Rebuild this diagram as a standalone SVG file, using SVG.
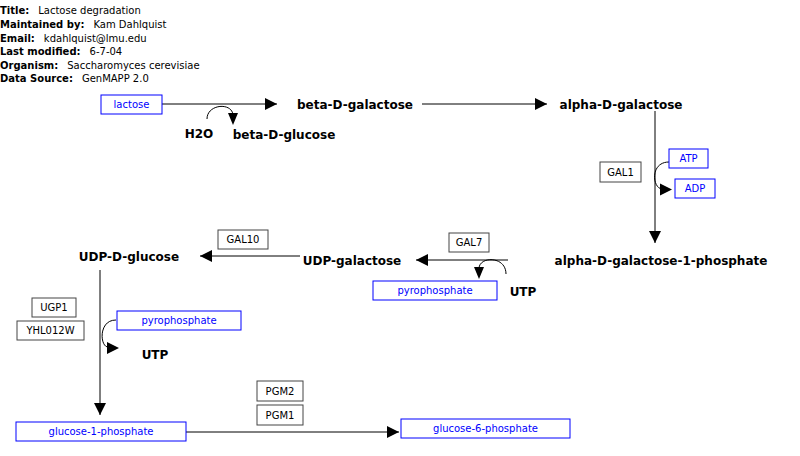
<svg xmlns="http://www.w3.org/2000/svg" width="800" height="456" viewBox="0 0 800 456">
<style>
text{font-family:"DejaVu Sans","Liberation Sans",sans-serif}
.h{font-size:10px;fill:#000}
.hb{font-weight:bold}
.lbl{font-size:12px;font-weight:bold;fill:#000;text-anchor:middle;dominant-baseline:central}
.gb{fill:#fff;stroke:#444;stroke-width:1}
.gt{font-size:10px;fill:#000;text-anchor:middle;dominant-baseline:central}
.mb{fill:#fff;stroke:#0000ff;stroke-width:1}
.mt{font-size:10px;fill:#0000ff;text-anchor:middle;dominant-baseline:central}
.ln{fill:none;stroke:#000;stroke-width:1}
</style>
<defs>
<marker id="ah" viewBox="0 0 12 12" refX="12" refY="6" markerWidth="12" markerHeight="12" markerUnits="userSpaceOnUse" orient="auto">
<path d="M0,0 L12,6 L0,12 Z" fill="#000"/>
</marker>
</defs>
<g id="header">
<text class="h" x="0" y="14"><tspan class="hb">Title:</tspan><tspan dx="9">Lactose degradation</tspan></text>
<text class="h" x="0" y="28"><tspan class="hb">Maintained by:</tspan><tspan dx="9">Kam Dahlquist</tspan></text>
<text class="h" x="0" y="42"><tspan class="hb">Email:</tspan><tspan dx="9">kdahlquist@lmu.edu</tspan></text>
<text class="h" x="0" y="55"><tspan class="hb">Last modified:</tspan><tspan dx="9">6-7-04</tspan></text>
<text class="h" x="0" y="69"><tspan class="hb">Organism:</tspan><tspan dx="9">Saccharomyces cerevisiae</tspan></text>
<text class="h" x="0" y="82"><tspan class="hb">Data Source:</tspan><tspan dx="9">GenMAPP 2.0</tspan></text>
</g>
<g id="connectors">
<line class="ln" x1="162" y1="104" x2="277" y2="104" marker-end="url(#ah)"/>
<path class="ln" d="M207,119 C207,104 232,102 233,115" />
<path d="M228,113 L238,113 L233,125 Z" fill="#000"/>
<line class="ln" x1="422" y1="104" x2="547" y2="104" marker-end="url(#ah)"/>
<line class="ln" x1="655" y1="111" x2="655" y2="243" marker-end="url(#ah)"/>
<path class="ln" d="M669,162 C650,162 652,188 662,189" />
<path d="M660,183.5 L672,189.5 L660,195.5 Z" fill="#000"/>
<line class="ln" x1="508" y1="260" x2="416" y2="260" marker-end="url(#ah)"/>
<path class="ln" d="M506,274 C506,256 480,256 479,268" />
<path d="M474,267 L484,267 L479,279 Z" fill="#000"/>
<line class="ln" x1="300" y1="256" x2="200" y2="256" marker-end="url(#ah)"/>
<line class="ln" x1="100" y1="270" x2="100" y2="415" marker-end="url(#ah)"/>
<path class="ln" d="M116,320 C98,320 100,347 108,347" />
<path d="M107,342 L119,348 L107,354 Z" fill="#000"/>
<line class="ln" x1="186" y1="432" x2="399" y2="432" marker-end="url(#ah)"/>
</g>
<g id="lactose"><rect class="mb" x="101" y="95" width="61" height="19"/><text class="mt" x="131.5" y="104.5">lactose</text></g>
<g id="beta-D-galactose"><text class="lbl" x="355" y="104.5">beta-D-galactose</text></g>
<g id="H2O"><text class="lbl" x="199" y="133.5">H2O</text></g>
<g id="beta-D-glucose"><text class="lbl" x="284" y="134.5">beta-D-glucose</text></g>
<g id="alpha-D-galactose"><text class="lbl" x="621" y="104.5">alpha-D-galactose</text></g>
<g id="GAL1"><rect class="gb" x="600" y="162" width="41" height="20"/><text class="gt" x="620.5" y="172">GAL1</text></g>
<g id="ATP"><rect class="mb" x="669" y="149" width="39" height="19"/><text class="mt" x="688.5" y="158.5">ATP</text></g>
<g id="ADP"><rect class="mb" x="675" y="179" width="40" height="19"/><text class="mt" x="695" y="188.5">ADP</text></g>
<g id="alpha-D-galactose-1-phosphate"><text class="lbl" x="661" y="260.5">alpha-D-galactose-1-phosphate</text></g>
<g id="GAL7"><rect class="gb" x="449" y="233" width="40" height="19"/><text class="gt" x="469" y="242.5">GAL7</text></g>
<g id="UDP-galactose"><text class="lbl" x="352" y="260.5">UDP-galactose</text></g>
<g id="pyrophosphate1"><rect class="mb" x="373" y="281" width="124" height="19"/><text class="mt" x="435" y="290.5">pyrophosphate</text></g>
<g id="UTP1"><text class="lbl" x="523" y="291.5">UTP</text></g>
<g id="GAL10"><rect class="gb" x="218" y="230" width="50" height="19"/><text class="gt" x="243" y="239.5">GAL10</text></g>
<g id="UDP-D-glucose"><text class="lbl" x="129" y="256.5">UDP-D-glucose</text></g>
<g id="UGP1"><rect class="gb" x="32" y="298" width="44" height="19"/><text class="gt" x="54" y="307.5">UGP1</text></g>
<g id="YHL012W"><rect class="gb" x="17" y="321" width="67" height="19"/><text class="gt" x="50.5" y="330.5">YHL012W</text></g>
<g id="pyrophosphate2"><rect class="mb" x="117" y="311" width="124" height="19"/><text class="mt" x="179" y="320.5">pyrophosphate</text></g>
<g id="UTP2"><text class="lbl" x="155" y="354.5">UTP</text></g>
<g id="glucose-1-phosphate"><rect class="mb" x="16" y="422" width="170" height="19"/><text class="mt" x="101" y="431.5">glucose-1-phosphate</text></g>
<g id="PGM2"><rect class="gb" x="257" y="381" width="46" height="20"/><text class="gt" x="280" y="391">PGM2</text></g>
<g id="PGM1"><rect class="gb" x="257" y="405" width="46" height="20"/><text class="gt" x="280" y="415">PGM1</text></g>
<g id="glucose-6-phosphate"><rect class="mb" x="401" y="419" width="169" height="19"/><text class="mt" x="485.5" y="428.5">glucose-6-phosphate</text></g>
</svg>
